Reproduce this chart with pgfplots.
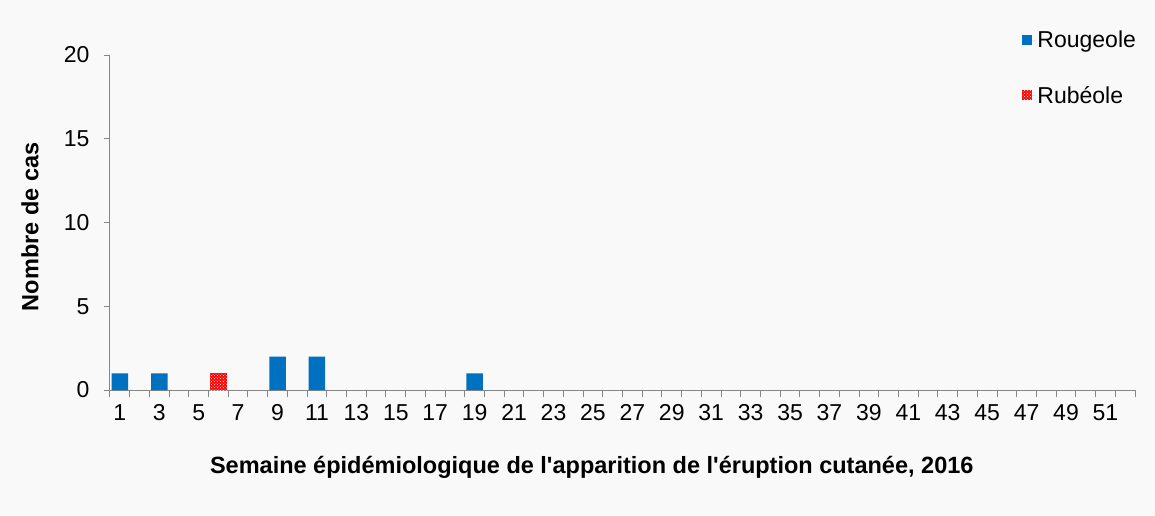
\documentclass[border=0pt]{standalone}
\usepackage{fontspec}
\setmainfont{Liberation Sans}
\usepackage{pgfplots}
\pgfplotsset{compat=1.18}
\usetikzlibrary{patterns}
\definecolor{bgcol}{HTML}{F9F9F9}
\definecolor{rougeole}{HTML}{0070C0}
\definecolor{rubeole}{HTML}{FF0000}
\definecolor{axisgray}{HTML}{868686}
\begin{document}
\begin{tikzpicture}
% page background
\fill[bgcol] (-110pt,-125pt) rectangle (1045pt,390pt);
\begin{axis}[
  at={(0pt,0pt)}, anchor=south west,
  scale only axis, width=1025pt, height=335pt,
  xmin=0.5, xmax=52.5, ymin=0, ymax=20,
  ybar, bar width=16.5pt, bar shift=0pt,
  axis x line=bottom, axis y line=left,
  axis line style={-, draw=axisgray, line width=1pt},
  xtick={1,3,...,51},
  minor xtick={0.5,1.5,...,52.5},
  ytick={0,5,10,15,20},
  major x tick style={draw=none},
  minor x tick style={draw=axisgray, line width=1pt},
  major y tick style={draw=axisgray, line width=1pt},
  tick align=outside,
  major tick length=6pt, minor tick length=7pt,
  /pgf/number format/assume math mode=true,
  tick label style={font=\fontsize{23}{27}\selectfont, black},
  xticklabel style={yshift=-5pt},
  yticklabel style={xshift=-11pt},
  xlabel={Semaine épidémiologique de l\textquotesingle apparition de l\textquotesingle éruption cutanée, 2016},
  ylabel={Nombre de cas},
  label style={font=\bfseries\fontsize{23.5}{27}\selectfont},
  xlabel style={at={(axis description cs:0.47,-0.23)}, anchor=center},
  ylabel style={at={(axis description cs:-0.078,0.487)}, anchor=center},
  legend style={at={(axis description cs:1.006,1.084)}, anchor=north east,
    draw=none, fill=none, font=\fontsize{23}{27}\selectfont,
    row sep=33pt, cells={anchor=west}},
  legend image code/.code={%
    \path[#1, draw=none] (0pt,-5pt) rectangle (10pt,5pt);
    \path (0pt,0pt) -- (13pt,0pt);},
]
\addplot[fill=rougeole, draw=none] coordinates {(1,1) (3,1) (9,2) (11,2) (19,1)};
\addlegendentry{Rougeole}
\addplot[fill=rubeole, draw=none, postaction={pattern=crosshatch dots, pattern color=white}] coordinates {(6,1)};
\addlegendentry{Rubéole}
\end{axis}
\end{tikzpicture}
\end{document}
